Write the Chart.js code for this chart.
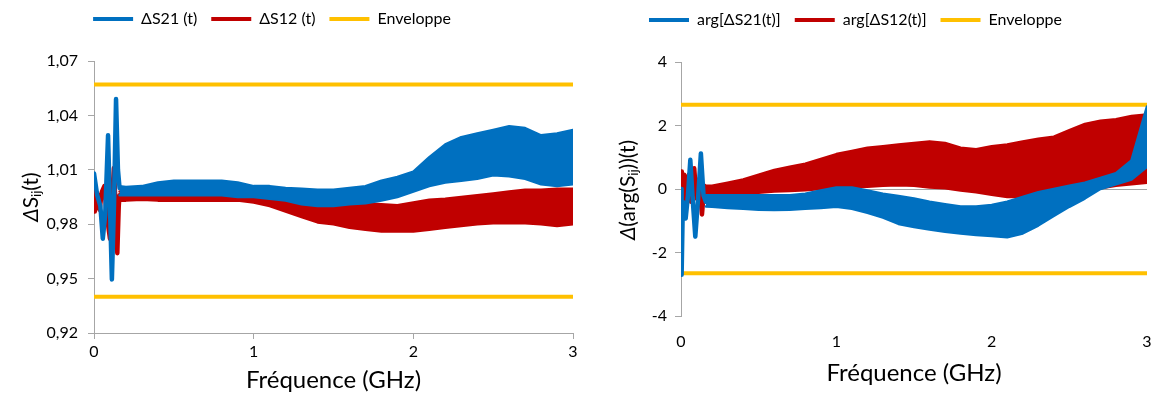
<!DOCTYPE html>
<html lang="fr">
<head>
<meta charset="utf-8">
<title>Module et phase de ΔS21 / ΔS12 en fonction de la fréquence</title>
<script src="https://cdn.jsdelivr.net/npm/chart.js@4.4.1/dist/chart.umd.min.js"></script>
<style>
  body { margin: 0; background: #fff; }
  #page { position: relative; width: 1159px; height: 403px; }
  canvas { position: absolute; top: 0; }
  #gauche { left: 0; }
  #droite { left: 580px; }
</style>
</head>
<body>
<div id="page">
  <canvas id="gauche" width="580" height="403"></canvas>
  <canvas id="droite" width="579" height="403"></canvas>
</div>
<script>
// abscisses des bandes de bruit (GHz)
const freq = [0.16, 0.2, 0.3, 0.4, 0.5, 0.6, 0.7, 0.8, 0.9, 1.0, 1.1, 1.2, 1.3, 1.4, 1.5,
              1.6, 1.7, 1.8, 1.9, 2.0, 2.1, 2.2, 2.3, 2.4, 2.5, 2.6, 2.7, 2.8, 2.9, 3.0];
const freqEnv = [0, 3];

// module : bords haut / bas des bandes
const s21Haut = [1.001, 1.0005, 1.001, 1.003, 1.004, 1.004, 1.004, 1.004, 1.003, 1.001, 1.001, 1.000, 0.9995, 0.999, 0.999,
                 1.000, 1.001, 1.004, 1.006, 1.009, 1.017, 1.024, 1.028, 1.030, 1.032, 1.034, 1.033, 1.029, 1.030, 1.032];
const s21Bas  = [0.996, 0.996, 0.996, 0.996, 0.996, 0.996, 0.996, 0.996, 0.995, 0.995, 0.994, 0.993, 0.991, 0.990, 0.990,
                 0.991, 0.9915, 0.993, 0.995, 0.998, 1.001, 1.003, 1.004, 1.005, 1.007, 1.0065, 1.005, 1.002, 1.001, 1.002];
const s12Haut = [0.998, 0.998, 0.999, 0.999, 0.999, 0.999, 0.999, 0.998, 0.998, 0.997, 0.996, 0.994, 0.992, 0.990, 0.9895,
                 0.990, 0.9915, 0.991, 0.9905, 0.992, 0.9935, 0.994, 0.995, 0.996, 0.997, 0.998, 0.999, 0.999, 0.9995, 0.9995];
const s12Bas  = [0.993, 0.993, 0.9935, 0.993, 0.993, 0.993, 0.993, 0.993, 0.993, 0.992, 0.990, 0.987, 0.984, 0.981, 0.980,
                 0.978, 0.977, 0.976, 0.976, 0.976, 0.977, 0.978, 0.979, 0.980, 0.9805, 0.9805, 0.9805, 0.980, 0.979, 0.980];
// module : oscillations du debut
const s21DebutF = [0, 0.02, 0.04, 0.055, 0.07, 0.088, 0.1, 0.112, 0.125, 0.138, 0.15, 0.16];
const s21DebutV = [1.008, 0.996, 0.99, 0.972, 0.985, 1.029, 0.99, 0.9495, 0.99, 1.049, 1.01, 1.0];
const s12DebutF = [0, 0.005, 0.02, 0.035, 0.05, 0.065, 0.08, 0.1, 0.11, 0.125, 0.135, 0.146, 0.155, 0.16];
const s12DebutV = [1.0, 0.987, 0.997, 0.988, 0.998, 1.001, 0.985, 0.972, 0.99, 1.011, 0.99, 0.964, 0.99, 0.996];
const envModule = [0.94, 1.057];

// phase : bords haut / bas des bandes
const a21Haut = [-0.2, -0.2, -0.2, -0.2, -0.2, -0.2, -0.2, -0.15, -0.05, 0.05, 0.05, -0.05, -0.15, -0.22, -0.3,
                 -0.4, -0.48, -0.55, -0.55, -0.5, -0.4, -0.25, -0.1, 0.0, 0.1, 0.2, 0.35, 0.5, 0.9, 2.6];
const a21Bas  = [-0.55, -0.56, -0.6, -0.62, -0.65, -0.66, -0.65, -0.62, -0.6, -0.56, -0.62, -0.75, -0.9, -1.1, -1.2,
                 -1.28, -1.35, -1.4, -1.45, -1.48, -1.52, -1.4, -1.15, -0.85, -0.56, -0.3, 0.0, 0.15, 0.3, 0.7];
const a12Haut = [0.1, 0.1, 0.2, 0.3, 0.45, 0.6, 0.7, 0.8, 0.95, 1.1, 1.2, 1.3, 1.35, 1.4, 1.45,
                 1.5, 1.45, 1.3, 1.25, 1.35, 1.4, 1.5, 1.58, 1.65, 1.85, 2.05, 2.15, 2.2, 2.3, 2.35];
const a12Bas  = [-0.35, -0.3, -0.22, -0.18, -0.12, -0.08, -0.06, -0.04, 0.0, 0.02, 0.05, 0.07, 0.1, 0.12, 0.1,
                 0.05, 0.02, -0.05, -0.1, -0.18, -0.25, -0.25, -0.25, -0.2, -0.14, -0.05, 0.02, 0.1, 0.15, 0.2];
// phase : oscillations du debut
const a21DebutF = [0, 0.004, 0.012, 0.03, 0.045, 0.06, 0.075, 0.092, 0.11, 0.128, 0.145, 0.16];
const a21DebutV = [0.0, -2.7, -0.4, -0.93, -0.2, 0.92, -0.3, -1.5, -0.3, 1.12, -0.2, -0.4];
const a12DebutF = [0, 0.005, 0.02, 0.035, 0.05, 0.065, 0.085, 0.1, 0.115, 0.135, 0.15, 0.16];
const a12DebutV = [0.55, -0.3, 0.45, -0.5, 0.45, -0.4, 0.65, -0.3, 0.3, -0.8, 0.1, -0.1];
const envPhase = [-2.65, 2.65];

const BLEU = '#0070C0', ROUGE = '#C00000', JAUNE = '#FFC000', GRIS = '#A6A6A6';
const POLICE = 'Lato, "Liberation Sans", sans-serif';

Chart.defaults.font.family = POLICE;
Chart.defaults.color = '#000';
Chart.defaults.elements.point.radius = 0;
Chart.defaults.elements.line.tension = 0;

const pts = (xs, ys) => xs.map((x, i) => ({ x: x, y: ys[i] }));

function courbes(lbl21, lbl12, d21f, d21v, d12f, d12v, h21, b21, h12, b12, env) {
  const ligne = (label, data, c, w, fill) => ({
    label, data, borderColor: c, backgroundColor: c, borderWidth: w, fill,
    borderJoinStyle: 'round', borderCapStyle: 'round'
  });
  return [
    ligne(lbl21, pts(d21f, d21v), BLEU, 4.5, false),
    ligne('', pts(freq, h21), BLEU, 2.5, '+1'),
    ligne('', pts(freq, b21), BLEU, 2.5, false),
    ligne(lbl12, pts(d12f, d12v), ROUGE, 4.5, false),
    ligne('', pts(freq, h12), ROUGE, 2.5, '+1'),
    ligne('', pts(freq, b12), ROUGE, 2.5, false),
    ligne('Enveloppe', pts(freqEnv, [env[1], env[1]]), JAUNE, 4, false),
    ligne('', pts(freqEnv, [env[0], env[0]]), JAUNE, 4, false)
  ];
}

// titre vertical avec indice "ij"
const titreVertical = {
  id: 'titreVertical',
  afterDraw(chart, args, o) {
    const ctx = chart.ctx;
    ctx.save();
    ctx.translate(o.x, o.y);
    ctx.rotate(-Math.PI / 2);
    ctx.fillStyle = '#000';
    ctx.textBaseline = 'middle';
    const morceaux = o.morceaux.map(m => Object.assign({}, m, {
      font: (m.italique ? 'italic ' : '') + (m.indice ? Math.round(o.taille * 0.62) : o.taille) + 'px ' + POLICE
    }));
    let total = 0;
    morceaux.forEach(m => { ctx.font = m.font; m.w = ctx.measureText(m.t).width; total += m.w; });
    let x = -total / 2;
    morceaux.forEach(m => {
      ctx.font = m.font;
      ctx.fillText(m.t, x, m.indice ? o.taille * 0.3 : 0);
      x += m.w;
    });
    ctx.restore();
  }
};

// deplacement de la legende (la zone de trace est fixee par afterFit)
const decalerLegende = {
  id: 'decalerLegende',
  afterLayout(chart, args, o) {
    const lg = chart.legend;
    if (lg) {
      lg.left += o.dx; lg.right += o.dx;
      lg.top += o.dy; lg.bottom += o.dy;
    }
  }
};

function options(p) {
  return {
    responsive: false,
    animation: false,
    layout: { padding: 0 },
    plugins: {
      tooltip: { enabled: false },
      legend: {
        position: 'top',
        labels: {
          boxWidth: 40, boxHeight: 4, padding: 14,
          font: { size: 16 }, color: '#000',
          generateLabels: ch => Chart.defaults.plugins.legend.labels.generateLabels(ch)
            .map(it => Object.assign(it, { lineWidth: 0, fillStyle: it.strokeStyle })),
          filter: it => it.text !== ''
        }
      },
      decalerLegende: { dx: p.dxLegende, dy: -24 },
      titreVertical: p.titreY
    },
    scales: {
      x: {
        type: 'linear', min: 0, max: 3,
        ticks: { stepSize: 1, padding: p.xTickPad, font: { size: 16 }, color: '#000' },
        border: { display: p.xBordure, color: GRIS },
        grid: { display: p.xBordure, drawOnChartArea: false, drawTicks: p.xBordure, tickLength: 6, color: GRIS },
        title: { display: true, text: 'Fréquence (GHz)', font: { size: 24 }, color: '#000', padding: { top: 0, bottom: p.xTitrePad } },
        afterFit: s => { s.height = p.xHauteur; s.paddingRight = p.droite; s.paddingLeft = 0; }
      },
      y: {
        min: p.ymin, max: p.ymax,
        ticks: { stepSize: p.ypas, padding: p.yTickPad, font: { size: 16 }, color: '#000', callback: p.format },
        border: { color: GRIS },
        grid: { drawOnChartArea: p.ligneZero, drawTicks: true, tickLength: 6, tickColor: GRIS,
                color: c => (p.ligneZero && c.tick && c.tick.value === 0) ? GRIS : 'rgba(0,0,0,0)' },
        afterFit: s => { s.width = p.yLargeur; s.paddingTop = p.haut; s.paddingBottom = 0; }
      }
    }
  };
}

new Chart(document.getElementById('gauche'), {
  type: 'line',
  data: { datasets: courbes('ΔS21 (t)', 'ΔS12 (t)', s21DebutF, s21DebutV, s12DebutF, s12DebutV,
                            s21Haut, s21Bas, s12Haut, s12Bas, envModule) },
  options: options({
    dxLegende: -18, ymin: 0.92, ymax: 1.07, ypas: 0.03,
    format: v => v.toFixed(2).replace('.', ','),
    xBordure: true, xTickPad: 3, xTitrePad: 8, xHauteur: 70, droite: 7,
    yTickPad: 10, yLargeur: 94, haut: 61, ligneZero: false,
    titreY: { x: 31, y: 197, taille: 21, morceaux: [{ t: 'Δ', italique: true }, { t: 'S' }, { t: 'ij', indice: true }, { t: '(t)' }] }
  }),
  plugins: [titreVertical, decalerLegende]
});

new Chart(document.getElementById('droite'), {
  type: 'line',
  data: { datasets: courbes('arg[ΔS21(t)]', 'arg[ΔS12(t)]', a21DebutF, a21DebutV, a12DebutF, a12DebutV,
                            a21Haut, a21Bas, a12Haut, a12Bas, envPhase) },
  options: options({
    dxLegende: -14, ymin: -4, ymax: 4, ypas: 2,
    format: v => String(v),
    xBordure: false, xTickPad: 16, xTitrePad: 15, xHauteur: 87, droite: 12,
    yTickPad: 8, yLargeur: 101, haut: 62, ligneZero: true,
    titreY: { x: 48, y: 190, taille: 21, morceaux: [{ t: 'Δ', italique: true }, { t: '(arg(S' }, { t: 'ij', indice: true }, { t: '))(t)' }] }
  }),
  plugins: [titreVertical, decalerLegende]
});
</script>
</body>
</html>
